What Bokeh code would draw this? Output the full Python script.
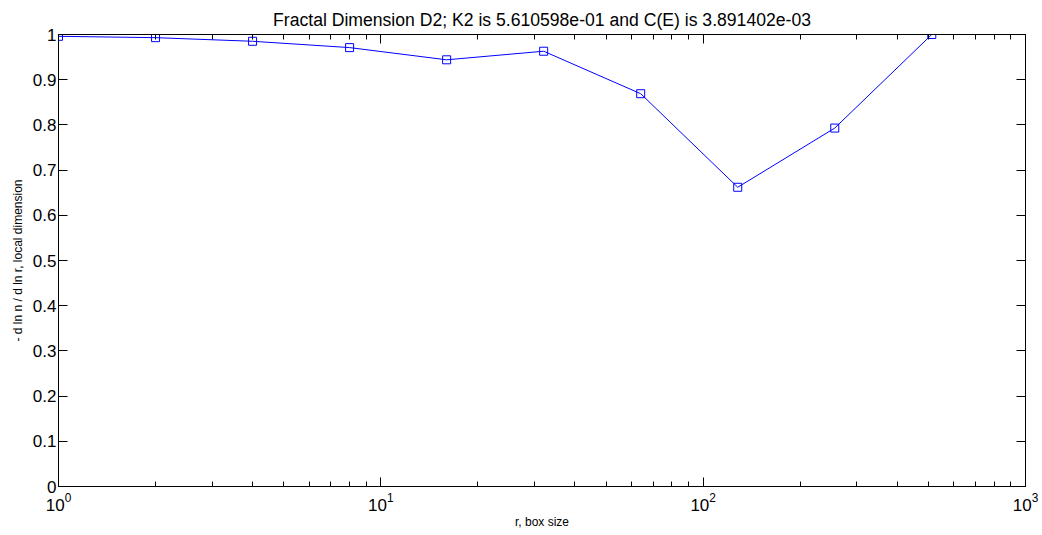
from bokeh.plotting import figure
from bokeh.models import LogAxis, LinearAxis, FixedTicker, CustomJSTickFormatter, LogTickFormatter
from bokeh.embed import file_html
from bokeh.resources import INLINE

# ---- data ----
box_size = [1, 2, 4, 8, 16, 32, 64, 128, 256, 512]
local_dim = [0.996, 0.993, 0.985, 0.971, 0.944, 0.963, 0.869, 0.662, 0.793, 1.0]

x_major_ticks = [1, 10, 100, 1000]
y_ticks = [0.0, 0.1, 0.2, 0.3, 0.4, 0.5, 0.6, 0.7, 0.8, 0.9, 1.0]
y_tick_labels = ["0", "0.1", "0.2", "0.3", "0.4", "0.5", "0.6", "0.7", "0.8", "0.9", "1"]

title_text = "Fractal Dimension D2; K2 is 5.610598e-01 and C(E) is 3.891402e-03"
x_label = "r, box size"
y_label = "- d ln n / d ln r, local dimension"

FONT = "Liberation Sans"
x_minor_ticks = [m * t for t in x_major_ticks[:-1] for m in range(2, 10)]

p = figure(width=1042, height=535, x_axis_type="log",
           x_range=(1, 1000), y_range=(0, 1),
           output_backend="svg", toolbar_location=None,
           min_border_left=58, min_border_right=17,
           min_border_top=34, min_border_bottom=49,
           title=title_text)
p.background_fill_color = "white"
p.border_fill_color = "white"
p.grid.visible = False
p.outline_line_color = "black"
p.outline_line_width = 1

p.title.align = "center"
p.title.text_font = FONT
p.title.text_font_size = "17.6px"
p.title.text_font_style = "normal"
p.title.text_color = "black"
p.title.standoff = 10

y_formatter = CustomJSTickFormatter(args=dict(yvals=y_ticks, ylabs=y_tick_labels), code="""
let best = 0;
for (let i = 0; i < yvals.length; i++) {
  if (Math.abs(yvals[i] - tick) < Math.abs(yvals[best] - tick)) best = i;
}
return ylabs[best];
""")


def style_axis(ax, minor):
    ax.axis_line_color = "black"
    ax.axis_line_width = 1
    ax.major_tick_line_color = "black"
    ax.minor_tick_line_color = "black"
    ax.major_tick_in = 9
    ax.major_tick_out = 0
    ax.minor_tick_in = 5 if minor else 0
    ax.minor_tick_out = 0
    ax.major_label_text_font = FONT
    ax.major_label_text_font_size = "17px"
    ax.major_label_text_color = "black"
    ax.axis_label_text_font = FONT
    ax.axis_label_text_font_size = "12px"
    ax.axis_label_text_font_style = "normal"
    ax.axis_label_text_color = "black"


def hide_labels(ax):
    ax.major_label_text_font_size = "1px"
    ax.major_label_text_alpha = 0
    ax.major_label_standoff = 0


xt = FixedTicker(ticks=x_major_ticks, minor_ticks=x_minor_ticks)
yt = FixedTicker(ticks=y_ticks)

xa = p.xaxis[0]
xa.ticker = xt
xa.formatter = LogTickFormatter()
style_axis(xa, True)
xa.major_label_standoff = 6
xa.axis_label = x_label
xa.axis_label_standoff = 1

ya = p.yaxis[0]
ya.ticker = yt
ya.formatter = y_formatter
style_axis(ya, False)
ya.major_label_standoff = 2
ya.axis_label = y_label
ya.axis_label_standoff = 5

top = LogAxis(ticker=xt)
style_axis(top, True)
hide_labels(top)
p.add_layout(top, "above")

right = LinearAxis(ticker=yt)
style_axis(right, False)
hide_labels(right)
p.add_layout(right, "right")

p.line(box_size, local_dim, line_color="#0000ff", line_width=1)
p.scatter(box_size, local_dim, marker="square", size=8,
          fill_color=None, line_color="#0000ff", line_width=1)

open("out.html", "w").write(file_html(p, INLINE))
